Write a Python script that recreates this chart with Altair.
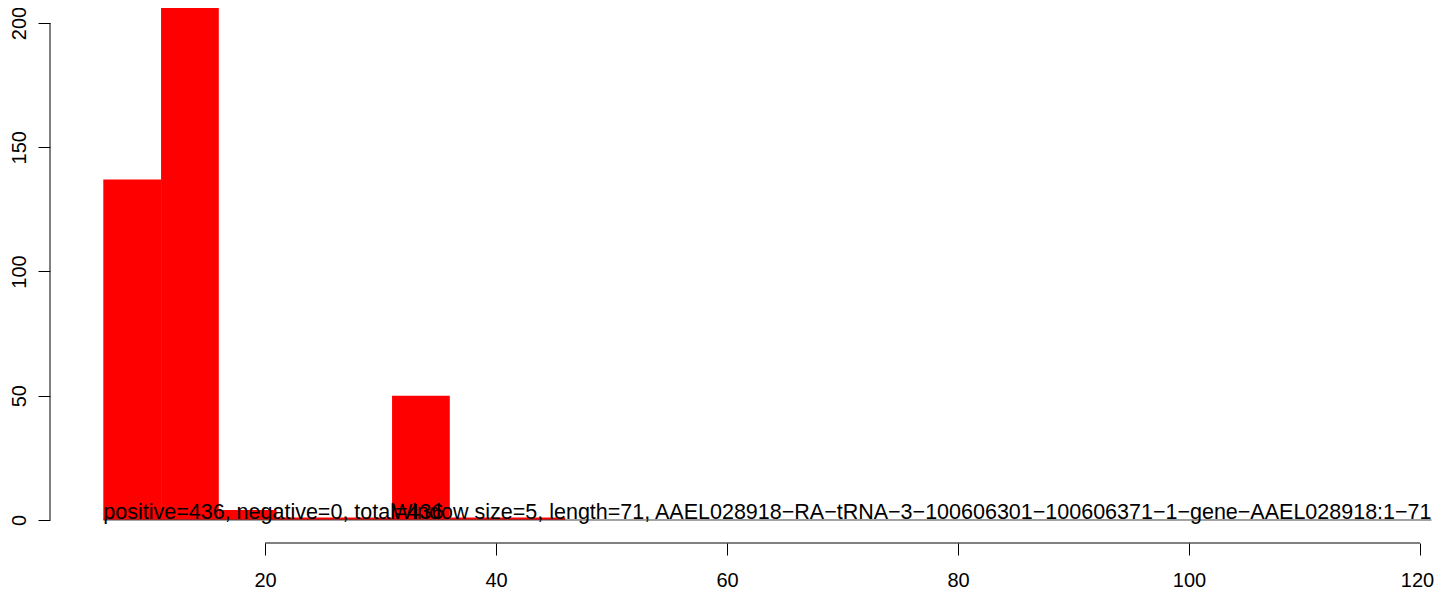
import altair as alt
import pandas as pd

# ---- data ----
bin_start = [6, 11, 16, 21, 26, 31, 36, 41]
counts = [137, 241, 4, 1, 1, 50, 1, 1]
bin_width = 5
x_ticks = [20, 40, 60, 80, 100, 120]
y_ticks = [0, 50, 100, 150, 200]
label_left = "positive=436, negative=0, total=436"
label_right = "Window size=5, length=71, AAEL028918\u2212RA\u2212tRNA\u22123\u2212100606301\u2212100606371\u22121\u2212gene\u2212AAEL028918:1\u221271"
label_left_x = 6
label_right_x = 31
baseline_from = 6
baseline_to = 121

X_DOM = [1.385, 120.606]
Y_DOM = [-9.26, 206.04]
FONT = "Liberation Sans"

bars_df = pd.DataFrame({
    "start": bin_start,
    "end": [s + bin_width for s in bin_start],
    "count": counts,
})

xs = alt.Scale(domain=X_DOM, nice=False, zero=False)
ys = alt.Scale(domain=Y_DOM, nice=False, zero=False)

bars = alt.Chart(bars_df).mark_bar(color="#FF0000", clip=True, strokeWidth=0).encode(
    x=alt.X("start:Q", scale=xs,
            axis=alt.Axis(values=x_ticks, domain=False, grid=False, tickSize=12,
                          tickColor="black", labelFontSize=20, labelFont=FONT,
                          labelColor="black", labelPadding=15, title=None,
                          labelFlush=False, labelOverlap=False,
                          labelOffset=alt.ExprRef("datum.value == 120 ? -3 : 0"))),
    x2="end:Q",
    y=alt.Y("count:Q", scale=ys,
            axis=alt.Axis(values=y_ticks, domain=False, grid=False, tickSize=12,
                          tickColor="black", labelFontSize=20, labelFont=FONT,
                          labelColor="black", labelAngle=-90, labelPadding=13,
                          title=None, labelFlush=False, labelOverlap=False,
                          labelAlign="center", labelBaseline="alphabetic")),
    y2=alt.datum(0),
)

base_df = pd.DataFrame({"a": [baseline_from], "b": [baseline_to], "y": [0]})
base_line = alt.Chart(base_df).mark_rule(color="#444444", strokeWidth=1).encode(
    x=alt.X("a:Q", scale=xs), x2="b:Q", y=alt.Y("y:Q", scale=ys)
)

xaxis_df = pd.DataFrame({"a": [min(x_ticks)], "b": [max(x_ticks)], "y": [Y_DOM[0]]})
xaxis_line = alt.Chart(xaxis_df).mark_rule(color="black", strokeWidth=1).encode(
    x=alt.X("a:Q", scale=xs), x2="b:Q", y=alt.Y("y:Q", scale=ys)
)

yaxis_df = pd.DataFrame({"a": [min(y_ticks)], "b": [max(y_ticks)], "x": [X_DOM[0]]})
yaxis_line = alt.Chart(yaxis_df).mark_rule(color="black", strokeWidth=1).encode(
    y=alt.Y("a:Q", scale=ys), y2="b:Q", x=alt.X("x:Q", scale=xs)
)

text_df = pd.DataFrame({"x": [label_left_x, label_right_x], "y": [0, 0],
                        "t": [label_left, label_right]})
texts = alt.Chart(text_df).mark_text(
    align="left", baseline="alphabetic", fontSize=21.5, font=FONT, color="black", dy=-1
).encode(x=alt.X("x:Q", scale=xs), y=alt.Y("y:Q", scale=ys), text="t:N")

chart = alt.layer(bars, base_line, texts, xaxis_line, yaxis_line).properties(
    width=1377, height=535,
    autosize=alt.AutoSizeParams(type="none"),
    padding={"left": 42, "top": 0, "right": 8, "bottom": 52},
    background="white",
).configure_view(strokeWidth=0, stroke=None)

chart.save("out.html", embed_options={"renderer": "svg", "actions": False})
